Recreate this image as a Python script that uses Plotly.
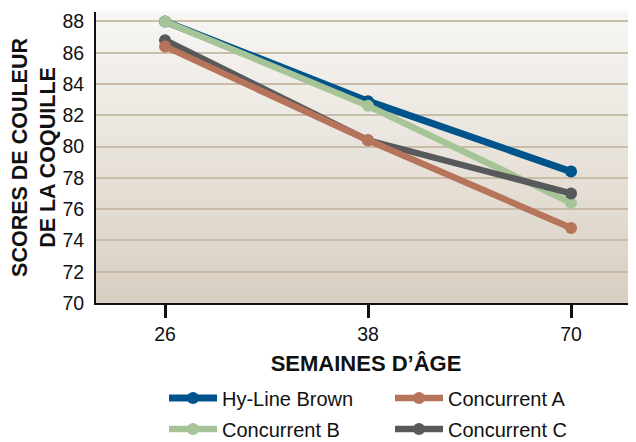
import plotly.graph_objects as go

weeks = ["26", "38", "70"]
hyline = [88.0, 82.9, 78.4]
conc_a = [86.4, 80.4, 74.8]
conc_b = [88.0, 82.6, 76.4]
conc_c = [86.8, 80.4, 77.0]
y_ticks = [70, 72, 74, 76, 78, 80, 82, 84, 86, 88]

# name, values, colour, width, legend row, rank
series = [
    ("Hy-Line Brown", hyline, "#00538b", 7, "legend", 1),
    ("Concurrent B", conc_b, "#a6c497", 6.5, "legend2", 1),
    ("Concurrent C", conc_c, "#58595b", 6.5, "legend2", 2),
    ("Concurrent A", conc_a, "#b6745a", 6.5, "legend", 2),
]

REG = "Liberation Sans, Arial, sans-serif"
W, H = 628, 434  # page body has an 8px margin

fig = go.Figure()
for name, vals, col, w, lg, rk in series:
    fig.add_trace(go.Scatter(
        x=weeks, y=vals, name=name, mode="lines+markers",
        line=dict(color=col, width=w), marker=dict(color=col, size=12),
        legend=lg, legendrank=rk,
    ))

# vertical gradient background
n = 40
top = (248, 247, 244)
bot = (216, 206, 193)
shapes = []
for k in range(n):
    t = (k + 0.5) / n
    c = tuple(int(round(top[j] + (bot[j] - top[j]) * t)) for j in range(3))
    shapes.append(dict(type="rect", xref="x domain", yref="y domain",
                       x0=0, x1=1, y0=1 - (k + 1) / n, y1=1 - k / n + 0.002,
                       fillcolor="rgb(%d,%d,%d)" % c, line=dict(width=0), layer="below"))

leg_common = dict(orientation="h", xref="container", yref="container",
                  x=156 / W, xanchor="left", yanchor="middle",
                  entrywidth=163, traceorder="normal",
                  font=dict(family=REG, size=20, color="#111"),
                  itemwidth=48, bgcolor="rgba(0,0,0,0)")

fig.update_layout(
    width=W, height=H,
    margin=dict(l=83, r=0, t=4, b=139),
    paper_bgcolor="white", plot_bgcolor="rgba(0,0,0,0)",
    shapes=shapes,
    font=dict(family=REG, size=19.5, color="#111"),
    showlegend=True,
    legend=dict(y=44 / H, **leg_common),
    legend2=dict(y=13 / H, **leg_common),
    xaxis=dict(type="category", range=[-0.34, 2.32], showgrid=False,
               showline=True, linecolor="#111", linewidth=2,
               ticks="outside", ticklen=13, tickwidth=2.5, tickcolor="#111",
               title=dict(text="SEMAINES D’ÂGE", standoff=11,
                          font=dict(family=REG, size=22, weight="bold", color="#111"))),
    yaxis=dict(range=[70, 88.6], tickvals=y_ticks, showgrid=True, gridcolor="#c9bca9", gridwidth=1.5,
               showline=True, linecolor="#111", linewidth=2, zeroline=False, ticks="",
               ticklabelstandoff=6,
               title=dict(text="SCORES DE COULEUR<br>DE LA COQUILLE", standoff=11,
                          font=dict(family=REG, size=21.5, weight="bold", color="#111"))),
)

fig.write_html("out.html")
